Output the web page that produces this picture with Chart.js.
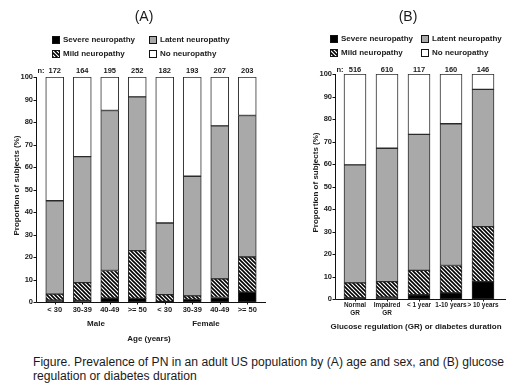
<!DOCTYPE html>
<html><head><meta charset="utf-8">
<script src="https://cdn.jsdelivr.net/npm/chart.js@4/dist/chart.umd.min.js"></script>
<style>
html,body{margin:0;padding:0;background:#fff;width:520px;height:391px;overflow:hidden}
#wrap{position:relative;width:520px;height:391px}
#cA{position:absolute;left:0;top:0}
#cB{position:absolute;left:270px;top:0}
#cap{position:absolute;left:33px;top:355px;font:12.5px "Liberation Sans",Arial,sans-serif;line-height:14px;color:#1a1a1a;white-space:nowrap;transform-origin:0 0}
</style></head><body>
<div id="wrap">
<canvas id="cA" width="270" height="350"></canvas>
<canvas id="cB" width="250" height="350"></canvas>
<div id="cap"><span id="cap1">Figure. Prevalence of PN in an adult US population by (A) age and sex, and (B) glucose</span><br>regulation or diabetes duration</div>
</div>
<script>
// ---------- data ----------
const seriesNames = ['Severe neuropathy', 'Mild neuropathy', 'Latent neuropathy', 'No neuropathy'];
const yTicks = [0, 10, 20, 30, 40, 50, 60, 70, 80, 90, 100];

const ageLabels = ['< 30', '30-39', '40-49', '>= 50', '< 30', '30-39', '40-49', '>= 50'];
const sexGroups = ['Male', 'Female'];
const ageCounts = [172, 164, 195, 252, 182, 193, 207, 203];
const ageSevere = [0.8, 0.7, 1.7, 1.6, 0.3, 1.2, 2.0, 4.4];
const ageMild   = [2.7, 7.9, 12.3, 21.2, 3.0, 1.5, 8.3, 15.6];
const ageLatent = [41.5, 56.0, 71.1, 68.4, 31.8, 53.2, 68.0, 62.9];
const ageNone   = [55.0, 35.4, 14.9, 8.8, 64.9, 44.1, 21.7, 17.1];

const grLabels = [['Normal', 'GR'], ['Impaired', 'GR'], '< 1 year', '1-10 years', '> 10 years'];
const grCounts = [516, 610, 117, 160, 146];
const grSevere = [0.5, 0.8, 1.9, 2.7, 7.7];
const grMild   = [6.7, 6.9, 10.8, 12.2, 24.5];
const grLatent = [52.4, 59.3, 60.5, 63.0, 61.0];
const grNone   = [40.4, 33.0, 26.8, 22.1, 6.8];

// ---------- caption width fit ----------
(function () {
  const cap = document.getElementById('cap');
  const w = document.getElementById('cap1').getBoundingClientRect().width;
  if (w > 0) cap.style.transform = 'scaleX(' + (471 / w).toFixed(4) + ')';
})();

// ---------- styles ----------
const FONT = '"Liberation Sans", Arial, sans-serif';
const INK = '#1a1a1a';

function hatch() {
  const c = document.createElement('canvas');
  c.width = 4; c.height = 4;
  const g = c.getContext('2d');
  g.fillStyle = '#fff'; g.fillRect(0, 0, 4, 4);
  g.strokeStyle = '#000'; g.lineWidth = 1.6;
  for (const k of [-4, 0, 4]) {
    g.beginPath(); g.moveTo(k - 1, -1); g.lineTo(k + 5, 5); g.stroke();
  }
  return g.createPattern(c, 'repeat');
}
const HATCH = hatch();
const fills = ['#000000', HATCH, '#a9a9a9', '#ffffff'];

function datasets(vals) {
  return vals.map((v, i) => ({
    label: seriesNames[i], data: v, backgroundColor: fills[i],
    borderColor: '#2a2a2a', borderWidth: 1, borderSkipped: false
  }));
}

const deco = {
  id: 'deco',
  afterDraw(chart, args, o) {
    const { ctx, chartArea: ca, scales: { x, y } } = chart;
    const ax = ca.left - o.gap + 0.5;
    const yb = Math.round(y.getPixelForValue(0)) + 0.5;
    ctx.save();
    ctx.strokeStyle = '#111'; ctx.lineWidth = 1;
    ctx.beginPath();
    ctx.moveTo(ax, y.getPixelForValue(100)); ctx.lineTo(ax, yb);
    ctx.moveTo(ax, yb); ctx.lineTo(ca.right + o.extR, yb);
    yTicks.forEach(v => { const p = Math.round(y.getPixelForValue(v)) + 0.5; ctx.moveTo(ax - 3, p); ctx.lineTo(ax, p); });
    chart.data.labels.forEach((l, i) => { const p = Math.round(x.getPixelForValue(i)) + 0.5; ctx.moveTo(p, yb); ctx.lineTo(p, yb + 2); });
    ctx.stroke();

    ctx.fillStyle = INK;
    // panel title
    ctx.font = '14px ' + FONT; ctx.textAlign = 'center'; ctx.textBaseline = 'middle';
    ctx.fillText(o.title, o.titleX, 17);
    // legend
    ctx.font = 'bold 8px ' + FONT; ctx.textAlign = 'left';
    o.legend.forEach(it => {
      const ds = chart.data.datasets[it.i];
      ctx.fillStyle = ds.backgroundColor; ctx.fillRect(it.x, it.y - 4, 8, 8);
      ctx.strokeStyle = '#111'; ctx.strokeRect(it.x + 0.5, it.y - 3.5, 7, 7);
      ctx.fillStyle = INK; ctx.fillText(ds.label, it.x + 11, it.y);
    });
    // counts
    ctx.font = 'bold 7.5px ' + FONT;
    ctx.textAlign = 'left'; ctx.fillText('n:', ax + 1, o.nY);
    ctx.textAlign = 'center';
    o.counts.forEach((n, i) => ctx.fillText(String(n), x.getPixelForValue(i), o.nY));
    // group labels
    ctx.font = 'bold 8px ' + FONT;
    (o.groups || []).forEach((g, gi) => {
      const cx = (x.getPixelForValue(gi * 4 + 1) + x.getPixelForValue(gi * 4 + 2)) / 2;
      ctx.fillText(g, cx, o.groupY);
    });
    // axis titles
    ctx.fillText(o.xTitle, (ca.left + ca.right) / 2 + o.xTitleDx, o.xTitleY);
    ctx.save();
    ctx.translate(o.yTitleX, (ca.top + ca.bottom) / 2 - 4);
    ctx.rotate(-Math.PI / 2);
    ctx.fillText('Proportion of subjects (%)', 0, 0);
    ctx.restore();
    ctx.restore();
  }
};

function makeChart(id, labels, vals, cfg) {
  return new Chart(document.getElementById(id), {
    type: 'bar',
    data: { labels, datasets: datasets(vals) },
    plugins: [deco],
    options: {
      responsive: false, animation: false, devicePixelRatio: 1,
      layout: { padding: { top: cfg.top, right: cfg.padR, left: 0, bottom: 0 } },
      plugins: { legend: { display: false }, tooltip: { enabled: false }, deco: cfg.deco },
      scales: {
        x: {
          stacked: true, offset: true,
          grid: { display: false, drawTicks: false }, border: { display: false },
          ticks: { color: INK, font: { family: FONT, size: cfg.xFont, weight: 'bold', lineHeight: 1.15 }, padding: cfg.xPad, maxRotation: 0, autoSkip: false },
          afterFit: s => { s.height = cfg.H - cfg.bottom; }
        },
        y: {
          stacked: true, min: 0, max: 100,
          grid: { display: false, drawTicks: false }, border: { display: false },
          ticks: { stepSize: 10, color: INK, font: { family: FONT, size: 7.5, weight: 'bold' }, padding: cfg.yPad },
          afterFit: s => { s.width = cfg.left; }
        }
      },
      datasets: { bar: { barThickness: cfg.barW } }
    }
  });
}

makeChart('cA', ageLabels, [ageSevere, ageMild, ageLatent, ageNone], {
  H: 350, top: 77, bottom: 302, left: 41, padR: 9, barW: 18, xPad: 4, yPad: 8, xFont: 7.5,
  deco: {
    gap: 5, extR: 5, title: '(A)', titleX: 144, nY: 71, counts: ageCounts,
    groups: sexGroups, groupY: 324, xTitle: 'Age (years)', xTitleY: 339, xTitleDx: -2, yTitleX: 17,
    legend: [{ i: 0, x: 52, y: 40 }, { i: 2, x: 149, y: 40 }, { i: 1, x: 52, y: 54 }, { i: 3, x: 149, y: 54 }]
  }
});

makeChart('cB', grLabels, [grSevere, grMild, grLatent, grNone], {
  H: 350, top: 74, bottom: 299, left: 69, padR: 21, barW: 22, xPad: 3, yPad: 7, xFont: 6.4,
  deco: {
    gap: 4, extR: 7, title: '(B)', titleX: 138, nY: 70, counts: grCounts,
    xTitle: 'Glucose regulation (GR) or diabetes duration', xTitleY: 327, xTitleDx: -3, yTitleX: 46,
    legend: [{ i: 0, x: 60, y: 39 }, { i: 2, x: 151, y: 39 }, { i: 1, x: 60, y: 53 }, { i: 3, x: 151, y: 53 }]
  }
});
</script>
</body></html>
